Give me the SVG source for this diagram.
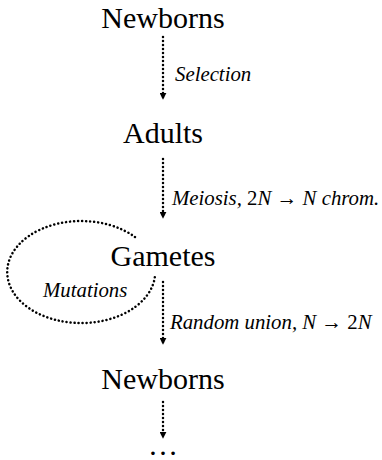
<svg xmlns="http://www.w3.org/2000/svg" width="382" height="460" viewBox="0 0 382 460">
  <style>
    .node { font-family: "Liberation Serif", "DejaVu Serif", serif; font-size: 30px; fill: #000; text-anchor: middle; }
    .lbl { font-family: "Liberation Serif", "DejaVu Serif", serif; font-size: 20.8px; font-style: italic; fill: #000; }
    .up { font-style: normal; }
    .dot { fill: none; stroke: #000; stroke-width: 2.5; stroke-linecap: round; stroke-dasharray: 0.1 3.9; }
  </style>
  <defs>
    <marker id="head" viewBox="0 0 10 10" refX="9" refY="5" markerWidth="7" markerHeight="7" markerUnits="userSpaceOnUse" orient="auto">
      <path d="M0,0 L10,5 L0,10 Z" fill="#000"/>
    </marker>
  </defs>

  <rect width="382" height="460" fill="#fff"/>

  <g id="newborns-1"><text class="node" x="163" y="28">Newborns</text></g>
  <g id="adults"><text class="node" x="163" y="143">Adults</text></g>
  <g id="gametes"><text class="node" x="163" y="266">Gametes</text></g>
  <g id="newborns-2"><text class="node" x="163" y="389">Newborns</text></g>
  <g id="more"><text class="node" x="163" y="455">…</text></g>

  <g id="connectors">
    <path class="dot" d="M163,37 L163,99" marker-end="url(#head)"/>
    <path class="dot" d="M163,159 L163,218" marker-end="url(#head)"/>
    <path class="dot" d="M163,282 L163,344" marker-end="url(#head)"/>
    <path class="dot" d="M163,402 L163,438" marker-end="url(#head)"/>
    <!-- self loop on Gametes -->
    <path class="dot" d="M135,237 A74,51 0 1,0 155,276"/>
  </g>

  <g id="labels">
    <text class="lbl" x="175" y="81">Selection</text>
    <text class="lbl" x="172" y="205">Meiosis, <tspan class="up">2</tspan>N <tspan class="up">→</tspan> N chrom.</text>
    <text class="lbl" x="170" y="329">Random union, N <tspan class="up">→</tspan> <tspan class="up">2</tspan>N</text>
    <text class="lbl" x="43" y="297">Mutations</text>
  </g>
</svg>
